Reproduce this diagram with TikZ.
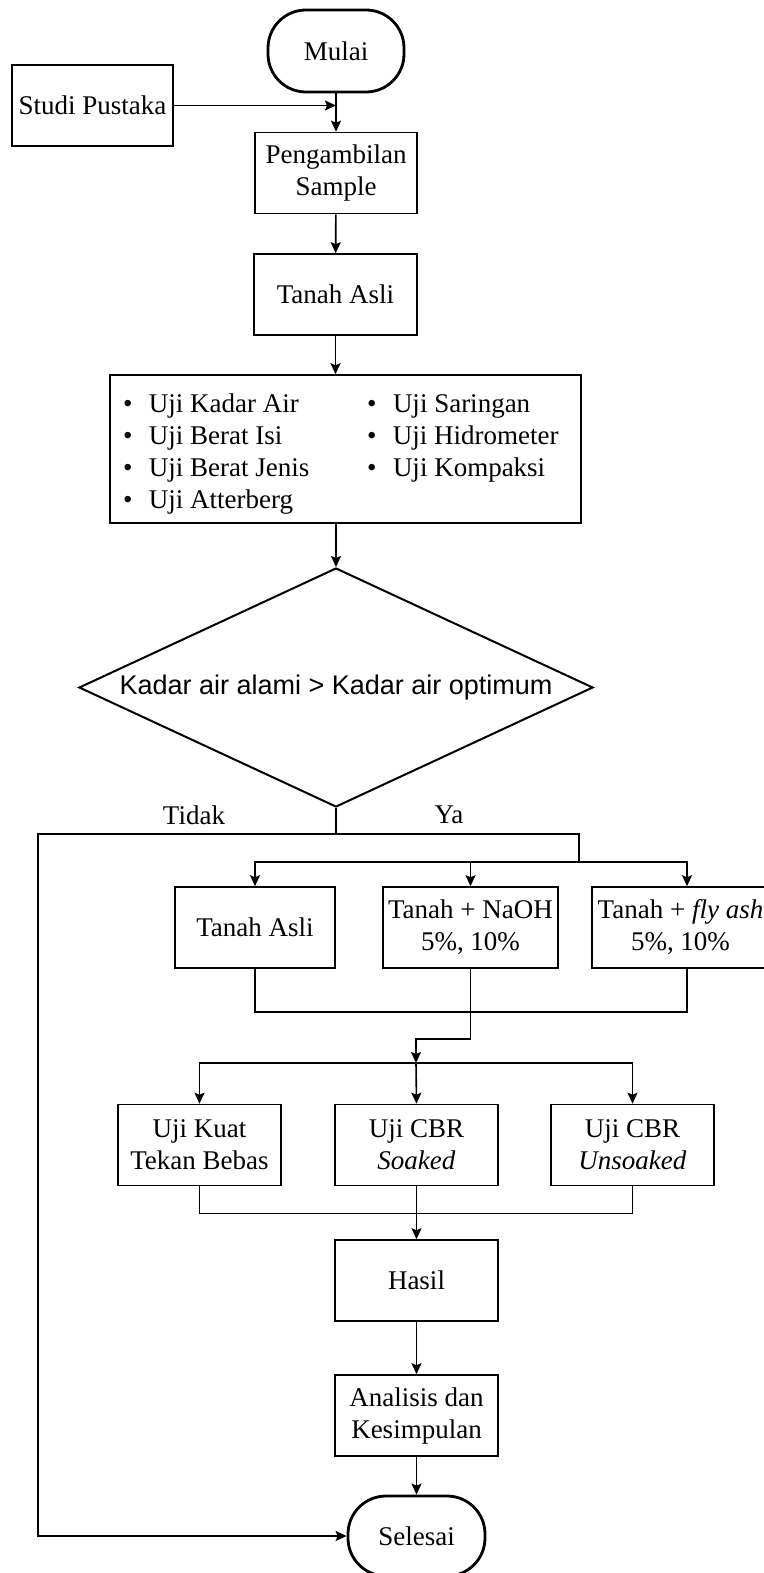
\documentclass[tikz,border=0pt]{standalone}
\usepackage{fontspec}
\setmainfont{Liberation Serif}
\newfontfamily\arialfont{Liberation Sans}
\usetikzlibrary{arrows.meta, shapes.geometric, calc}
\newcommand{\ujiitem}[1]{\makebox[26pt][l]{\textbullet}#1}

\begin{document}
\begin{tikzpicture}[x=1pt, y=-1pt, line width=1.6pt,
  font=\fontsize{27}{32}\selectfont,
  box/.style={draw, rectangle, align=center, inner sep=2pt, minimum height=81pt},
  term/.style={draw, line width=2.8pt, rounded corners=38pt,
               minimum width=136pt, minimum height=82pt},
  flow/.style={-{Stealth[length=11pt, width=10pt, inset=2pt]}}]
  \useasboundingbox (0,0) rectangle (763,1573);

  % Start and literature
  \node[term] (mulai) at (336,51) {Mulai};
  \node[box, minimum width=161pt] (studi) at (92.5,105.5) {Studi Pustaka};
  \node[box, minimum width=162pt] (ambil) at (336,173) {Pengambilan\\Sample};
  \node[box, minimum width=163pt] (asli) at (335.5,294.5) {Tanah Asli};

  % Soil tests
  \node[draw, minimum width=471pt, minimum height=148pt, inner sep=0pt] (uji) at (345.5,449) {%
    \raisebox{0pt}[\dimexpr\height+10pt\relax][\depth]{%
    \begin{tabular}{@{}p{244pt}@{}p{201pt}@{}}
      \ujiitem{Uji Kadar Air}   & \ujiitem{Uji Saringan}\\
      \ujiitem{Uji Berat Isi}   & \ujiitem{Uji Hidrometer}\\
      \ujiitem{Uji Berat Jenis} & \ujiitem{Uji Kompaksi}\\
      \ujiitem{Uji Atterberg}   &
    \end{tabular}}};

  % Decision
  \node[diamond, draw, line width=2pt, aspect=2.15, minimum width=514pt, minimum height=239pt,
        inner sep=0pt, font=\arialfont\fontsize{27}{32}\selectfont] (cek) at (336,687.5)
        {Kadar air alami > Kadar air optimum};
  \node (tidak) at (194,815) {Tidak};
  \node (ya) at (449,815) {Ya};

  % Mixtures
  \node[box, minimum width=160pt] (asli2) at (255,927.5) {Tanah Asli};
  \node[box, minimum width=175pt] (naoh) at (470.5,927.5) {Tanah + NaOH\\5\%, 10\%};
  \node[box, minimum width=177pt] (fly) at (680.5,927.5) {Tanah + \textit{fly ash}\\5\%, 10\%};

  % Strength tests
  \node[box, minimum width=163pt] (kuat) at (199.5,1145) {Uji Kuat\\Tekan Bebas};
  \node[box, minimum width=163pt] (soak) at (416.5,1145) {Uji CBR\\\textit{Soaked}};
  \node[box, minimum width=163pt] (unsoak) at (632.5,1145) {Uji CBR\\\textit{Unsoaked}};

  % Results and end
  \node[box, minimum width=163pt] (hasil) at (416.5,1280.5) {Hasil};
  \node[box, minimum width=163pt] (analisis) at (416.5,1415.5) {Analisis dan\\Kesimpulan};
  \node[term, minimum width=137pt, minimum height=80pt] (selesai) at (416.5,1536) {Selesai};

  % Junctions
  \coordinate (pisah) at (336,834);
  \coordinate (tidakbelok) at (38,834);
  \coordinate (cabangA) at (579,862);
  \coordinate (cabangB) at (416,1063);

  % Connectors
  \draw[flow] (studi.east) -- (studi.east -| mulai.south);
  \draw[flow] (mulai) -- (ambil);
  \draw[flow] (ambil) -- (asli);
  \draw[flow] (asli.south) -- (asli.south |- uji.north);
  \draw[flow] (cek.north |- uji.south) -- (cek.north);
  \draw (cek.south) -- (pisah);
  \draw[flow] (pisah) -- (tidakbelok) |- (selesai.west);
  \draw (pisah) -| (cabangA);
  \draw[flow] (cabangA) -| (asli2.north);
  \draw[flow] (cabangA) -| (naoh.north);
  \draw[flow] (cabangA) -| ([xshift=6.5pt]fly.north);
  \draw (asli2.south) -- ++(0,43) -| ([xshift=6.5pt]fly.south);
  \draw[flow] (naoh.south) -- ++(0,70) -| (cabangB);
  \draw[flow] (cabangB) -| (kuat.north);
  \draw[flow] (cabangB) -- (soak.north);
  \draw[flow] (cabangB) -| (unsoak.north);
  \draw (kuat.south) -- ++(0,27) -| (unsoak.south);
  \draw[flow] (soak) -- (hasil);
  \draw[flow] (hasil) -- (analisis);
  \draw[flow] (analisis) -- (selesai);
\end{tikzpicture}
\end{document}
